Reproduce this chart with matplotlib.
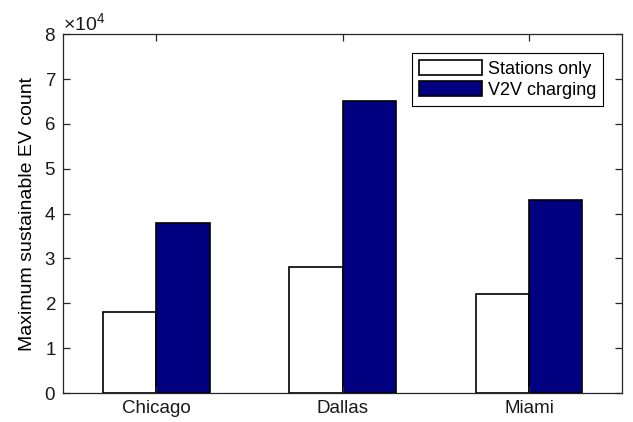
import numpy as np
import matplotlib
matplotlib.use('Agg')
import matplotlib.pyplot as plt
from matplotlib.ticker import ScalarFormatter

plt.rcParams['font.family'] = ['Liberation Sans', 'DejaVu Sans']
plt.rcParams['mathtext.fontset'] = 'custom'
plt.rcParams['mathtext.rm'] = 'Liberation Sans'
plt.rcParams['mathtext.it'] = 'Liberation Sans:italic'

cities = ['Chicago', 'Dallas', 'Miami']
stations_only = [18000, 28000, 22000]
v2v_charging = [38000, 65000, 43000]

x = np.arange(1, len(cities) + 1)
bar_w = 0.286

fig = plt.figure(figsize=(6.33, 4.22), dpi=100)
ax = fig.add_axes([0.0995, 0.0687, 0.8835, 0.8503])

ax.bar(x - bar_w / 2, stations_only, bar_w, color='white', edgecolor='black',
       linewidth=1.2, label='Stations only')
ax.bar(x + bar_w / 2, v2v_charging, bar_w, color='#000080', edgecolor='black',
       linewidth=1.2, label='V2V charging')

ax.set_xlim(0.5, 3.5)
ax.set_ylim(0, 80000)
ax.set_xticks(x)
ax.set_xticklabels(cities)
ax.set_yticks(np.arange(0, 80001, 10000))

fmt = ScalarFormatter(useMathText=True)
fmt.set_powerlimits((0, 0))
ax.yaxis.set_major_formatter(fmt)
ax.yaxis.get_offset_text().set_fontsize(14)

ax.set_ylabel('Maximum sustainable EV count', fontsize=14, labelpad=6)

for side in ax.spines.values():
    side.set_color('#262626')
    side.set_linewidth(0.9)
ax.tick_params(direction='in', top=True, right=True, length=5, width=0.9,
               colors='#262626', labelsize=13.5, labelcolor='#1a1a1a', pad=5)

leg = ax.legend(loc='upper right', bbox_to_anchor=(0.966, 0.947),
                fancybox=False, edgecolor='black', framealpha=1,
                handlelength=3.5, handleheight=0.9, handletextpad=0.3,
                borderpad=0.4, labelspacing=0.15, borderaxespad=0, fontsize=13)
leg.get_frame().set_linewidth(0.8)

fig.savefig('out.png', dpi=100)
